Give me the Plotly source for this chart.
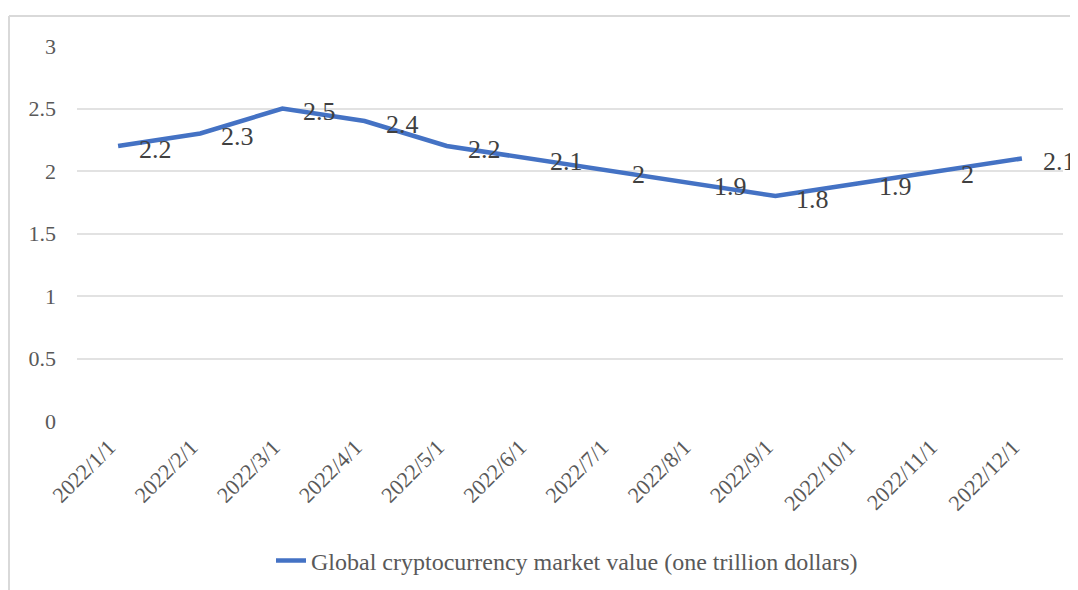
import plotly.graph_objects as go

dates = ["2022/1/1", "2022/2/1", "2022/3/1", "2022/4/1", "2022/5/1", "2022/6/1",
         "2022/7/1", "2022/8/1", "2022/9/1", "2022/10/1", "2022/11/1", "2022/12/1"]
market_value = [2.2, 2.3, 2.5, 2.4, 2.2, 2.1, 2.0, 1.9, 1.8, 1.9, 2.0, 2.1]
value_labels = ["2.2", "2.3", "2.5", "2.4", "2.2", "2.1", "2", "1.9", "1.8", "1.9", "2", "2.1"]
y_ticks = [0, 0.5, 1, 1.5, 2, 2.5, 3]
y_tick_text = ["0", "0.5", "1", "1.5", "2", "2.5", "3"]
series_name = "Global cryptocurrency market value (one trillion dollars)"

FONT = "Liberation Serif, Times New Roman, serif"
LINE_COLOR = "#4472C4"

# the page body has an 8px margin, so the figure is sized to fill the window
OFF = 8
W, H = 1078 - OFF, 590 - OFF
L, T, B, R = 77 - OFF, 46 - OFF, 421 - OFF, 1063 - OFF

def px(xp):
    return (xp - OFF - L) / (R - L)

def py(yp):
    return (B - (yp - OFF)) / (B - T)

fig = go.Figure()
fig.add_trace(go.Scatter(
    x=dates, y=market_value, mode="lines", name=series_name,
    line=dict(color=LINE_COLOR, width=4.5),
    hoverinfo="skip",
))

for d, v, t in zip(dates, market_value, value_labels):
    fig.add_annotation(x=d, y=v, text=t, showarrow=False, xanchor="left",
                       yanchor="middle", xshift=19, yshift=-3,
                       font=dict(family=FONT, size=26, color="#404040"))

border = "#d9d9d9"
fig.add_shape(type="line", xref="paper", yref="paper", x0=px(9), x1=px(9),
              y0=py(16), y1=py(600), line=dict(color=border, width=2))
fig.add_shape(type="line", xref="paper", yref="paper", x0=px(9), x1=px(1090),
              y0=py(16), y1=py(16), line=dict(color=border, width=2))

fig.update_layout(
    width=W, height=H,
    margin=dict(l=L, r=W - R, t=T, b=H - B, autoexpand=False),
    paper_bgcolor="white", plot_bgcolor="white",
    font=dict(family=FONT, color="#595959"),
    showlegend=True,
    legend=dict(orientation="h", x=px(271), xanchor="left", y=py(561), yanchor="middle",
                font=dict(family=FONT, size=24, color="#595959"),
                itemwidth=30, bgcolor="rgba(0,0,0,0)"),
    xaxis=dict(type="category", range=[-0.5, 11.5], showgrid=False, showline=False,
               zeroline=False, tickangle=-45, ticks="", ticklabelstandoff=8,
               ticklabelshift=-9, automargin=False,
               tickfont=dict(family=FONT, size=22, color="#595959")),
    yaxis=dict(range=[0, 3], tickvals=y_ticks, ticktext=y_tick_text, showgrid=True,
               gridcolor="#e2e2e2", gridwidth=1.5, zeroline=False, showline=False,
               ticks="", ticklabelstandoff=20, automargin=False,
               tickfont=dict(family=FONT, size=22, color="#595959")),
)

fig.write_html("out.html")
